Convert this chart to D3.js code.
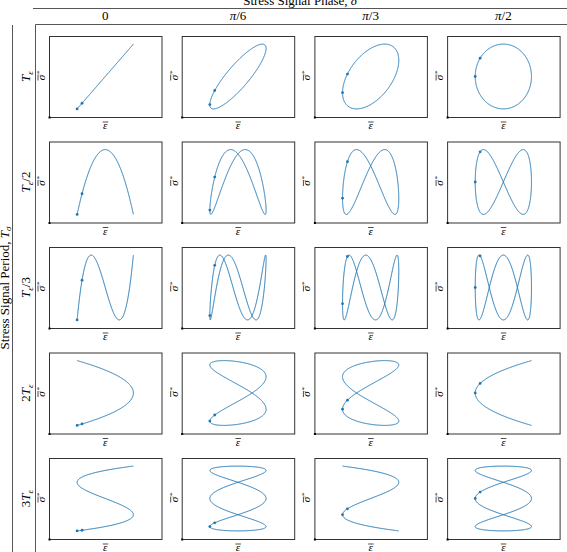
<!DOCTYPE html>
<html>
<head>
<meta charset="utf-8">
<script src="https://cdn.jsdelivr.net/npm/d3@7"></script>
<style>
  body { margin: 0; background: #fff; }
  text { font-family: "Liberation Serif", "DejaVu Serif", serif; fill: #000; }
</style>
</head>
<body>
<div id="grid"></div>
<script>
// stress period as multiple of strain period (T_sigma / T_eps), one per row
const periodRatios = [1, 1 / 2, 1 / 3, 2, 3];
const rowLabels = [
  { pre: "", sub: "ε", post: "" },
  { pre: "", sub: "ε", post: "/2" },
  { pre: "", sub: "ε", post: "/3" },
  { pre: "2", sub: "ε", post: "" },
  { pre: "3", sub: "ε", post: "" },
];
// stress phase, one per column
const phases = [0, Math.PI / 6, Math.PI / 3, Math.PI / 2];
const colLabels = ["0", "π/6", "π/3", "π/2"];
// time of the two markers (start + direction of travel)
const markerTimes = [0, 0.6];

const W = 567;
const H = 552;

const svg = d3
  .select("#grid")
  .append("svg")
  .attr("width", W)
  .attr("height", H);

const colScale = d3.scaleLinear().domain([0, 1]).range([49, 181.7]);
const rowScale = d3.scaleLinear().domain([0, 1]).range([36, 141.5]);
const boxW = 112.5;
const boxH = 81;

// headers / frame lines
svg
  .append("text")
  .attr("x", 300)
  .attr("y", 5)
  .attr("text-anchor", "middle")
  .style("font-size", "13px")
  .text("Stress Signal Phase, ")
  .append("tspan")
  .style("font-style", "italic")
  .text("δ");

svg.append("line").attr("x1", 33).attr("x2", W).attr("y1", 8.5).attr("y2", 8.5)
  .attr("stroke", "#555").attr("stroke-width", 1);
svg.append("line").attr("x1", 35.5).attr("x2", W).attr("y1", 24.5).attr("y2", 24.5)
  .attr("stroke", "#555").attr("stroke-width", 1);
svg.append("line").attr("x1", 35.5).attr("x2", 35.5).attr("y1", 24.5).attr("y2", H)
  .attr("stroke", "#555").attr("stroke-width", 1);
svg.append("line").attr("x1", 12.5).attr("x2", 12.5).attr("y1", 25).attr("y2", H)
  .attr("stroke", "#555").attr("stroke-width", 1);

const left = svg
  .append("text")
  .attr("transform", `translate(8.5,${(24 + H) / 2}) rotate(-90)`)
  .attr("text-anchor", "middle")
  .style("font-size", "13px")
  .text("Stress Signal Period, ");
left.append("tspan").style("font-style", "italic").text("T");
left.append("tspan").style("font-style", "italic").style("font-size", "9px")
  .attr("dy", 2.5).text("σ");

colLabels.forEach(function (lab, c) {
  const t = svg
    .append("text")
    .attr("x", colScale(c) + boxW / 2)
    .attr("y", 19.5)
    .attr("text-anchor", "middle")
    .style("font-size", "13px");
  if (lab === "0") {
    t.text(lab);
  } else {
    t.append("tspan").style("font-style", "italic").text("π");
    t.append("tspan").text(lab.slice(1));
  }
});

rowLabels.forEach(function (lab, r) {
  const t = svg
    .append("text")
    .attr("transform", `translate(30,${rowScale(r) + boxH / 2}) rotate(-90)`)
    .attr("text-anchor", "middle")
    .style("font-size", "13px");
  if (lab.pre) t.append("tspan").text(lab.pre);
  t.append("tspan").style("font-style", "italic").text("T");
  t.append("tspan").style("font-style", "italic").style("font-size", "9px")
    .attr("dy", 2.5).text(lab.sub);
  if (lab.post) t.append("tspan").attr("dy", -2.5).text(lab.post);
});

const line = d3.line()
  .x(function (d) { return d.x; })
  .y(function (d) { return d.y; });

periodRatios.forEach(function (ratio, r) {
  phases.forEach(function (delta, c) {
    const x0 = colScale(c);
    const y0 = rowScale(r);
    const x = d3.scaleLinear().domain([-2, 2]).range([x0, x0 + boxW]);
    const y = d3.scaleLinear().domain([-1.25, 1.25]).range([y0 + boxH, y0]);

    const g = svg.append("g");

    g.append("rect")
      .attr("x", x0 + 0.5)
      .attr("y", y0 + 0.5)
      .attr("width", boxW)
      .attr("height", boxH)
      .attr("fill", "none")
      .attr("stroke", "#333")
      .attr("stroke-width", 1);

    g.append("rect")
      .attr("x", x0 - 0.5)
      .attr("y", y0 + boxH - 0.5)
      .attr("width", 2)
      .attr("height", 2)
      .attr("fill", "#000");

    // strain eps = -cos(t), stress sigma = -cos(t / ratio + delta)
    const eps = function (t) { return -Math.cos(t); };
    const sig = function (t) { return -Math.cos(t / ratio + delta); };
    const tMax = 2 * Math.PI * Math.max(1, ratio);
    const N = 800;
    const half = d3.range(N / 2 + 1).map(function (k) { return (k * tMax) / N; });

    // the curve is closed; if it folds back on itself about some t0, draw it once
    let t0 = null;
    for (let k = 0; k * Math.PI < tMax && t0 === null; k++) {
      const c0 = k * Math.PI;
      const sym = half.every(function (s) {
        return Math.abs(sig(c0 + s) - sig(c0 - s)) < 1e-6;
      });
      if (sym) t0 = c0;
    }
    const ts = t0 === null
      ? d3.range(N + 1).map(function (k) { return (k * tMax) / N; })
      : half.map(function (s) { return t0 + s; });

    const pts = ts.map(function (t) {
      return { x: x(eps(t)), y: y(sig(t)) };
    });

    g.append("path")
      .datum(pts)
      .attr("fill", "none")
      .attr("stroke", "#1f77b4")
      .attr("stroke-width", 1)
      .attr("d", line);

    g.selectAll("circle")
      .data(markerTimes)
      .enter()
      .append("circle")
      .attr("cx", function (t) { return x(eps(t)); })
      .attr("cy", function (t) { return y(sig(t)); })
      .attr("r", 1.4)
      .attr("fill", "#1f77b4");

    // eps-bar label under the box
    const cx = x0 + boxW / 2;
    g.append("text")
      .attr("x", cx)
      .attr("y", y0 + boxH + 12)
      .attr("text-anchor", "middle")
      .style("font-size", "11px")
      .style("font-style", "italic")
      .text("ε");
    g.append("line")
      .attr("x1", cx - 2.5).attr("x2", cx + 3)
      .attr("y1", y0 + boxH + 5).attr("y2", y0 + boxH + 5)
      .attr("stroke", "#000").attr("stroke-width", 0.7);

    // sigma-bar-star label left of the box
    const s = g
      .append("g")
      .attr("transform", `translate(${x0 - 4},${y0 + boxH / 2}) rotate(-90)`);
    s.append("text")
      .attr("x", -1)
      .attr("text-anchor", "middle")
      .style("font-size", "11px")
      .style("font-style", "italic")
      .text("σ");
    s.append("line")
      .attr("x1", -4).attr("x2", 2)
      .attr("y1", -7).attr("y2", -7)
      .attr("stroke", "#000").attr("stroke-width", 0.7);
    s.append("text")
      .attr("x", 2.5)
      .attr("y", -4)
      .style("font-size", "7px")
      .text("*");
  });
});
</script>
</body>
</html>
